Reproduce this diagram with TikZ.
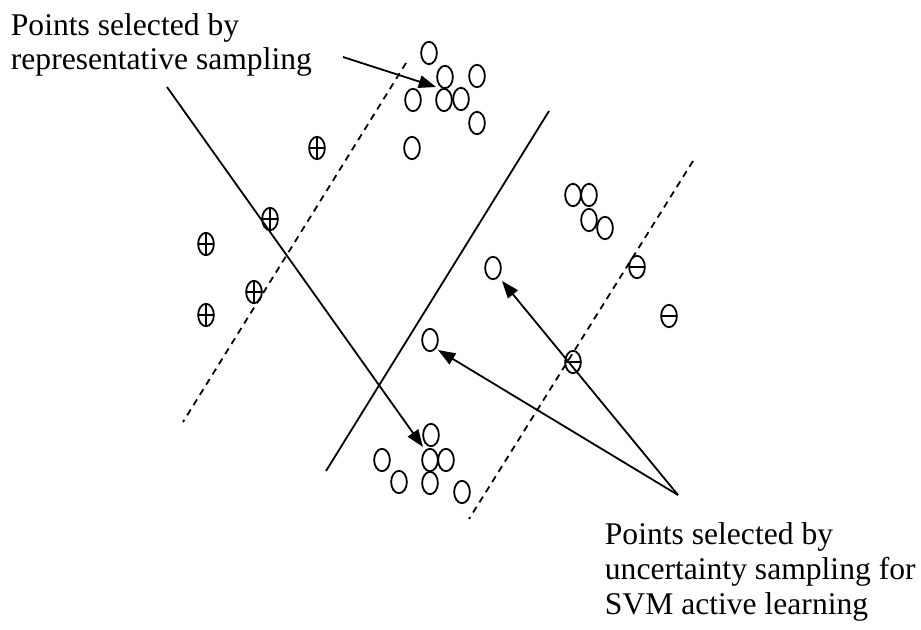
\documentclass[tikz,border=0pt]{standalone}
\usepackage{fontspec}
\setmainfont{Liberation Serif}
\usetikzlibrary{shapes.geometric,arrows.meta}
\tikzset{every picture/.style={line width=1.35pt}}
\tikzset{
  blankdot/.style={draw,ellipse,inner sep=0pt,minimum width=11.8pt,minimum height=16.8pt},
  plusdot/.style={blankdot,path picture={\draw (path picture bounding box.north) -- (path picture bounding box.south) (path picture bounding box.west) -- (path picture bounding box.east);}},
  minusdot/.style={blankdot,path picture={\draw (path picture bounding box.west) -- (path picture bounding box.east);}},
  marginline/.style={dash pattern=on 5pt off 4pt},
  pointer/.style={-{Triangle[length=13pt,width=9.5pt]}},
  caption/.style={anchor=north west,inner sep=0pt,align=left,font=\fontsize{23.7}{26}\selectfont}
}

\begin{document}
\begin{tikzpicture}[x=0.75pt,y=0.75pt,yscale=-1,xscale=1]
        \useasboundingbox (0,0) rectangle (921,629);

        \coordinate (hypTop) at (549,111);
        \coordinate (hypBot) at (326,471);
        \coordinate (marLTop) at (406,63);
        \coordinate (marLBot) at (183,422);
        \coordinate (marRTop) at (693,161);
        \coordinate (marRBot) at (469,519);
        \draw (hypTop) -- (hypBot);
        \draw [marginline] (marLTop) -- (marLBot);
        \draw [marginline] (marRTop) -- (marRBot);

        \foreach \n/\x/\y in {u1/429/53,u2/445/77,u3/477/76,u4/413/100,u5/444/100,u6/461/99,u7/477/123,u8/412/148,
            b1/431/435,b2/382/460,b3/430/460,b4/446/460,b5/399/482,b6/430/483,b7/462/492,
            r1/573/195,r2/589/195,r3/589/220,r4/605/228,m1/493/268,m2/430/340}
            \node [blankdot] (\n) at (\x,\y) {};
        \foreach \n/\x/\y in {p1/317/148,p2/270/219,p3/206/244,p4/254/292,p5/206/315}
            \node [plusdot] (\n) at (\x,\y) {};
        \foreach \n/\x/\y in {n1/637/267,n2/669/316,n3/573/362}
            \node [minusdot] (\n) at (\x,\y) {};

        \node [caption] (repText) at (10,12.5) {Points selected by\\representative sampling};
        \node [caption] (uncText) at (604,522) {Points selected by\\uncertainty sampling for\\SVM active learning};

        \coordinate (repTailA) at (343,57);
        \coordinate (repTailB) at (167,87);
        \coordinate (repTipA) at (436,87);
        \coordinate (repTipB) at (423,447);
        \coordinate (uncTail) at (678,495);
        \coordinate (uncTipA) at (438,350);
        \coordinate (uncTipB) at (502,281);
        \draw [pointer] (repTailA) -- (repTipA);
        \draw [pointer] (repTailB) -- (repTipB);
        \draw [pointer] (uncTail) -- (uncTipA);
        \draw [pointer] (uncTail) -- (uncTipB);
\end{tikzpicture}
\end{document}
